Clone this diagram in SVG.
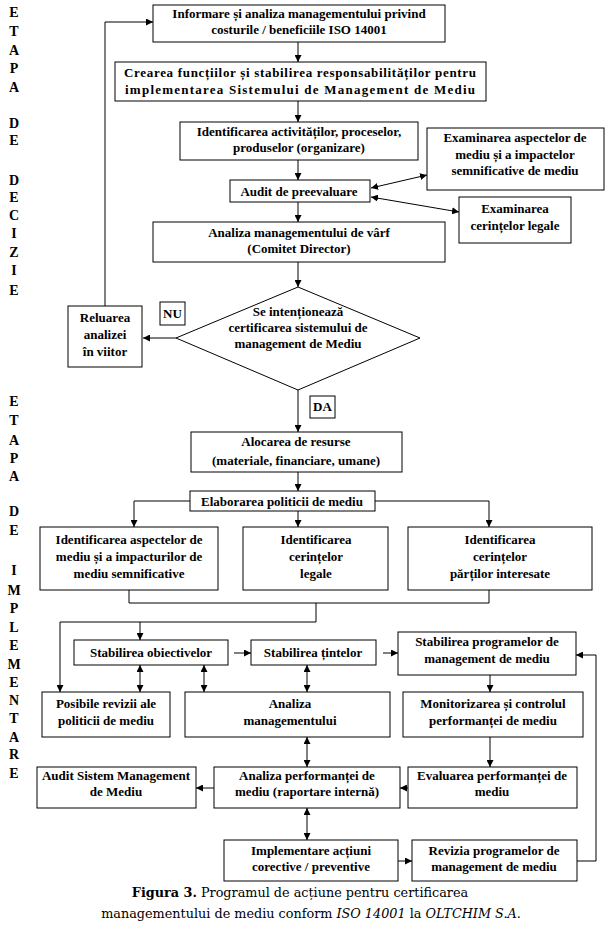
<svg xmlns="http://www.w3.org/2000/svg" width="609" height="935" viewBox="0 0 609 935">
<defs>
<style>
.b{fill:#fff;stroke:#000;stroke-width:1}
.t{font-family:"Liberation Serif","Times New Roman",serif;font-weight:bold;font-size:13px;text-anchor:middle;fill:#000}
.s{font-family:"Liberation Serif","Times New Roman",serif;font-weight:bold;font-size:14px;text-anchor:middle;fill:#000}
.c{fill:none;stroke:#000;stroke-width:1}
.cap{font-family:"DejaVu Serif","Liberation Serif",serif;font-size:12.8px;text-anchor:middle;fill:#000}
</style>
<marker id="a" viewBox="0 0 8 8" refX="8" refY="4" markerWidth="7" markerHeight="7" markerUnits="userSpaceOnUse" orient="auto-start-reverse">
<path d="M0,0 L8,4 L0,8 z" fill="#000"/>
</marker>
</defs>
<rect width="609" height="935" fill="#fff"/>

<g id="side-labels" class="s">
<text x="14" y="17">E</text><text x="14" y="36">T</text><text x="14" y="55">A</text><text x="14" y="73">P</text><text x="14" y="92">A</text>
<text x="14" y="128">D</text><text x="14" y="145">E</text>
<text x="14" y="185">D</text><text x="14" y="202">E</text><text x="14" y="220">C</text><text x="14" y="238">I</text><text x="14" y="257">Z</text><text x="14" y="275">I</text><text x="14" y="295">E</text>
<text x="14" y="406">E</text><text x="14" y="425">T</text><text x="14" y="445">A</text><text x="14" y="463">P</text><text x="14" y="481">A</text>
<text x="14" y="516">D</text><text x="14" y="535">E</text>
<text x="14" y="575">I</text><text x="14" y="595">M</text><text x="14" y="613">P</text><text x="14" y="632">L</text><text x="14" y="650">E</text><text x="14" y="669">M</text><text x="14" y="687">E</text><text x="14" y="705">N</text><text x="14" y="723">T</text><text x="14" y="742">A</text><text x="14" y="759">R</text><text x="14" y="778">E</text>
</g>

<g id="connectors" class="c">
<line x1="298" y1="42" x2="298" y2="62" marker-end="url(#a)"/>
<line x1="298" y1="101" x2="298" y2="122" marker-end="url(#a)"/>
<line x1="298" y1="160" x2="298" y2="180" marker-end="url(#a)"/>
<line x1="371" y1="188" x2="427" y2="175" marker-start="url(#a)" marker-end="url(#a)"/>
<line x1="371" y1="197" x2="459" y2="212" marker-start="url(#a)" marker-end="url(#a)"/>
<line x1="298" y1="202" x2="298" y2="222" marker-end="url(#a)"/>
<line x1="298" y1="262" x2="298" y2="287" marker-end="url(#a)"/>
<line x1="176" y1="338" x2="143" y2="338" marker-end="url(#a)"/>
<polyline points="105,306 105,22 153,22" marker-end="url(#a)"/>
<line x1="298" y1="390" x2="298" y2="432" marker-end="url(#a)"/>
<line x1="298" y1="472" x2="298" y2="491" marker-end="url(#a)"/>
<polyline points="190,501 134,501 134,527" marker-end="url(#a)"/>
<line x1="298" y1="511" x2="298" y2="527" marker-end="url(#a)"/>
<polyline points="375,501 489,501 489,527" marker-end="url(#a)"/>
<polyline points="129,590 129,603 489,603 489,590"/>
<polyline points="316,603 316,622 60,622 60,692" marker-end="url(#a)"/>
<line x1="140" y1="622" x2="140" y2="640" marker-end="url(#a)"/>
<line x1="140" y1="665" x2="140" y2="692" marker-start="url(#a)" marker-end="url(#a)"/>
<line x1="204" y1="665" x2="204" y2="692" marker-start="url(#a)" marker-end="url(#a)"/>
<line x1="234" y1="653" x2="251" y2="653" marker-end="url(#a)"/>
<line x1="307" y1="665" x2="307" y2="692" marker-start="url(#a)" marker-end="url(#a)"/>
<line x1="383" y1="653" x2="398" y2="653" marker-end="url(#a)"/>
<line x1="490" y1="675" x2="490" y2="692" marker-end="url(#a)"/>
<line x1="490" y1="737" x2="490" y2="767" marker-end="url(#a)"/>
<line x1="307" y1="737" x2="307" y2="767" marker-start="url(#a)" marker-end="url(#a)"/>
<line x1="408" y1="788" x2="400" y2="788" marker-end="url(#a)"/>
<line x1="214" y1="788" x2="196" y2="788" marker-end="url(#a)"/>
<line x1="307" y1="808" x2="307" y2="840" marker-start="url(#a)" marker-end="url(#a)"/>
<line x1="398" y1="861" x2="412" y2="861" marker-end="url(#a)"/>
<polyline points="577,861 596,861 596,655 576,655" marker-end="url(#a)"/>
</g>

<g id="n-informare"><rect class="b" x="153" y="5" width="292" height="37"/>
<text class="t" x="299" y="18">Informare și analiza managementului privind</text>
<text class="t" x="299" y="34">costurile / beneficiile ISO 14001</text></g>

<g id="n-crearea"><rect class="b" x="115" y="62" width="371" height="39"/>
<text class="t" x="300" y="77" textLength="352" lengthAdjust="spacing">Crearea funcțiilor și stabilirea responsabilităților pentru</text>
<text class="t" x="300" y="94" textLength="350" lengthAdjust="spacing">implementarea Sistemului de Management de Mediu</text></g>

<g id="n-identificarea-activ"><rect class="b" x="180" y="122" width="238" height="38"/>
<text class="t" x="299" y="136">Identificarea activităților, proceselor,</text>
<text class="t" x="299" y="152">produselor (organizare)</text></g>

<g id="n-examinarea-aspecte"><rect class="b" x="427" y="128" width="177" height="62"/>
<text class="t" x="515" y="142">Examinarea aspectelor de</text>
<text class="t" x="515" y="159">mediu și a impactelor</text>
<text class="t" x="515" y="175">semnificative de mediu</text></g>

<g id="n-audit-pre"><rect class="b" x="230" y="180" width="140" height="22"/>
<text class="t" x="299" y="196">Audit de preevaluare</text></g>

<g id="n-examinarea-cerinte"><rect class="b" x="459" y="197" width="112" height="46"/>
<text class="t" x="515" y="213">Examinarea</text>
<text class="t" x="515" y="230">cerințelor legale</text></g>

<g id="n-analiza-varf"><rect class="b" x="153" y="222" width="292" height="40"/>
<text class="t" x="299" y="237">Analiza managementului de vârf</text>
<text class="t" x="299" y="253">(Comitet Director)</text></g>

<g id="n-decizie"><polygon class="b" points="298,287 420,338 298,390 176,338"/>
<text class="t" x="298" y="316">Se intenționează</text>
<text class="t" x="298" y="332">certificarea sistemului de</text>
<text class="t" x="298" y="348">management de Mediu</text></g>

<g id="n-nu"><rect class="b" x="160" y="302" width="25" height="23"/>
<text class="t" x="172.5" y="318">NU</text></g>

<g id="n-reluarea"><rect class="b" x="68" y="306" width="74" height="61"/>
<text class="t" x="105" y="322">Reluarea</text>
<text class="t" x="105" y="339">analizei</text>
<text class="t" x="105" y="356">în viitor</text></g>

<g id="n-da"><rect class="b" x="310" y="396" width="25" height="22"/>
<text class="t" x="322.5" y="411">DA</text></g>

<g id="n-alocarea"><rect class="b" x="191" y="432" width="211" height="40"/>
<text class="t" x="296" y="446">Alocarea de resurse</text>
<text class="t" x="296" y="465">(materiale, financiare, umane)</text></g>

<g id="n-elaborarea"><rect class="b" x="190" y="491" width="185" height="20"/>
<text class="t" x="282" y="506">Elaborarea politicii de mediu</text></g>

<g id="n-id-aspecte"><rect class="b" x="40" y="527" width="178" height="63"/>
<text class="t" x="129" y="544">Identificarea aspectelor de</text>
<text class="t" x="129" y="561">mediu și a impacturilor de</text>
<text class="t" x="129" y="578">mediu semnificative</text></g>

<g id="n-id-legale"><rect class="b" x="243" y="527" width="145" height="63"/>
<text class="t" x="316" y="544">Identificarea</text>
<text class="t" x="316" y="561">cerințelor</text>
<text class="t" x="316" y="578">legale</text></g>

<g id="n-id-parti"><rect class="b" x="408" y="527" width="184" height="63"/>
<text class="t" x="500" y="544">Identificarea</text>
<text class="t" x="500" y="561">cerințelor</text>
<text class="t" x="500" y="578">părților interesate</text></g>

<g id="n-obiective"><rect class="b" x="74" y="640" width="154" height="25"/>
<text class="t" x="151" y="657">Stabilirea obiectivelor</text></g>

<g id="n-tinte"><rect class="b" x="251" y="640" width="125" height="25"/>
<text class="t" x="313" y="657">Stabilirea țintelor</text></g>

<g id="n-programe"><rect class="b" x="398" y="632" width="178" height="43"/>
<text class="t" x="487" y="646">Stabilirea programelor de</text>
<text class="t" x="487" y="663">management de mediu</text></g>

<g id="n-posibile"><rect class="b" x="42" y="692" width="128" height="45"/>
<text class="t" x="106" y="708">Posibile revizii ale</text>
<text class="t" x="106" y="725">politicii de mediu</text></g>

<g id="n-analiza-mgmt"><rect class="b" x="185" y="692" width="205" height="45"/>
<text class="t" x="290" y="708">Analiza</text>
<text class="t" x="290" y="725">managementului</text></g>

<g id="n-monitorizarea"><rect class="b" x="403" y="692" width="180" height="45"/>
<text class="t" x="493" y="708">Monitorizarea și controlul</text>
<text class="t" x="493" y="725">performanței de mediu</text></g>

<g id="n-audit-sistem"><rect class="b" x="37" y="767" width="159" height="41"/>
<text class="t" x="116" y="780">Audit Sistem Management</text>
<text class="t" x="116" y="796">de Mediu</text></g>

<g id="n-analiza-perf"><rect class="b" x="214" y="767" width="186" height="41"/>
<text class="t" x="307" y="780">Analiza performanței de</text>
<text class="t" x="307" y="796">mediu (raportare internă)</text></g>

<g id="n-evaluarea"><rect class="b" x="408" y="767" width="169" height="41"/>
<text class="t" x="492" y="780">Evaluarea performanței de</text>
<text class="t" x="492" y="796">mediu</text></g>

<g id="n-implementare"><rect class="b" x="224" y="840" width="174" height="41"/>
<text class="t" x="311" y="855">Implementare acțiuni</text>
<text class="t" x="311" y="871">corective / preventive</text></g>

<g id="n-revizia"><rect class="b" x="412" y="840" width="165" height="41"/>
<text class="t" x="494" y="855">Revizia programelor de</text>
<text class="t" x="494" y="871">management de mediu</text></g>

<g id="caption">
<text class="cap" x="300" y="897"><tspan font-weight="bold">Figura 3.</tspan> Programul de acțiune pentru certificarea</text>
<text class="cap" x="311" y="918">managementului de mediu conform <tspan font-style="italic">ISO 14001</tspan> la <tspan font-style="italic">OLTCHIM S.A</tspan>.</text>
</g>
</svg>
